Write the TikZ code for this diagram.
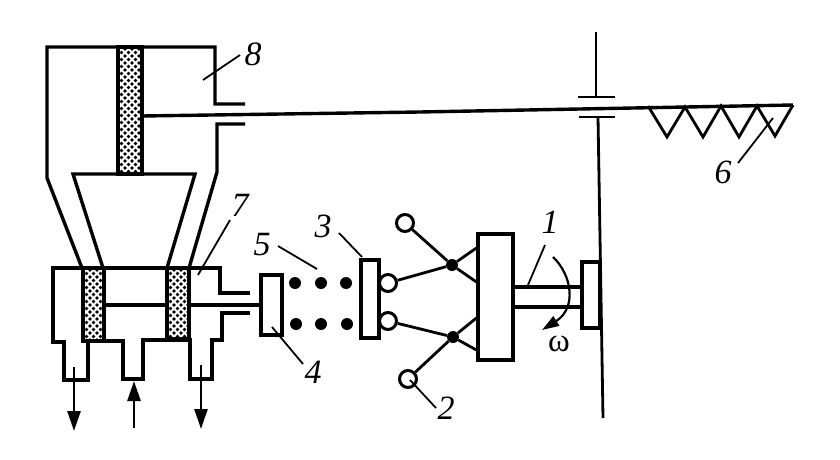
\documentclass[tikz,border=0pt]{standalone}
\usepackage{fontspec}
\setmainfont{Liberation Serif}
\usetikzlibrary{arrows.meta}
\tikzset{
  x=1pt,y=-1pt,
  heavy/.style={line width=3.4pt,line join=miter},
  medium/.style={line width=2.8pt},
  leader/.style={line width=1.8pt},
  flow/.style={line width=2.6pt,-{Triangle[length=20pt,width=13pt]}},
  boxn/.style={draw,line width=3.2pt,fill=white,inner sep=0pt,minimum width=#1},
  ball/.style={draw,line width=3pt,circle,fill=white,inner sep=0pt,minimum size=17pt},
  joint/.style={circle,fill=black,inner sep=0pt,minimum size=12pt},
  roller/.style={circle,fill=black,inner sep=0pt,minimum size=12pt},
  lab/.style={font=\fontsize{34}{34}\selectfont\itshape,inner sep=0pt},
  omegalab/.style={font=\fontsize{33}{33}\selectfont,inner sep=0pt}
}
\newcommand{\speckled}[4]{%
  \begin{scope}
    \clip (#1,#2) rectangle (#3,#4);
    \foreach \j in {0,...,38}{
      \foreach \i in {0,...,6}{
        \pgfmathsetmacro{\px}{#1+\i*7+mod(\j,2)*3.5}
        \pgfmathsetmacro{\py}{#2+2+\j*3.5}
        \fill (\px,\py) circle (1.8pt);
      }
    }
  \end{scope}
  \draw[line width=4pt] (#1,#2) rectangle (#3,#4);
}
\begin{document}
\begin{tikzpicture}
\useasboundingbox (0,0) rectangle (840,460);
\fill[white] (0,0) rectangle (840,460);

% upper cylinder
\draw[heavy] (245,104) -- (215,104) -- (215,47) -- (47,47) -- (47,178) -- (82,268);
\draw[heavy] (245,124) -- (217,124) -- (217,172) -- (189,268);
\speckled{118}{47}{142}{174}
\draw[heavy] (103,268) -- (73,174) -- (195,174) -- (167,268);

% long rod with saw teeth
\draw[heavy] (142,116) -- (420,112) -- (793,105);
\draw[medium,line join=miter] (648,106) -- (667,137) -- (685,107) -- (703,137) -- (721,106)
  -- (739,137) -- (757,106) -- (775,136) -- (793,105);

% wall
\draw[medium] (596,32) -- (596,97);
\draw[medium] (578,97) -- (615,97);
\draw[medium] (579,117) -- (615,117);
\draw[medium] (598,117) -- (603,418);

% lower cylinder
\draw[heavy] (250,293) -- (220,293) -- (220,268) -- (53,268) -- (53,342) -- (64,342) -- (64,380)
  -- (88,380) -- (88,341) -- (123,341) -- (123,379) -- (143,379) -- (143,340) -- (190,340)
  -- (190,379) -- (212,379) -- (212,340) -- (222,340) -- (222,313) -- (250,313);
\speckled{83}{268}{104}{341}
\speckled{167}{268}{189}{339}

% piston rod and disc 4
\node[boxn=21pt,minimum height=60pt] (d4) at (271.5,305) {};
\draw[heavy] (104,305) -- (167,305);
\draw[heavy] (189,305) -- (d4.west);

% rollers
\foreach \n/\x/\y in {a/295/283,b/321/283,c/346/283,d/296/324,e/321/324,f/347/324}
  \node[roller] (r\n) at (\x,\y) {};

% disc 3, balls, block
\node[boxn=18pt,minimum height=78pt] (d3) at (370,299) {};
\node[boxn=35pt,minimum height=126pt] (blk) at (495.5,297) {};
\node[joint] (j1) at (452,265) {};
\node[joint] (j2) at (453,337) {};
\node[ball] (b1) at (405,223) {};
\node[ball] (b2) at (388,283) {};
\node[ball] (b3) at (388,321) {};
\node[ball] (b4) at (408,379) {};
\draw[medium] (b1) -- (j1);
\draw[medium] (b2) -- (j1);
\draw[medium] (b3) -- (j2);
\draw[medium] (b4) -- (j2);
\draw[medium] (j1) -- (blk.west |- 0,248);
\draw[medium] (j1) -- (blk.west |- 0,282);
\draw[medium] (j2) -- (blk.west |- 0,318);
\draw[medium] (j2) -- (blk.west |- 0,350);

% shaft and right disc
\node[boxn=18pt,minimum height=66pt] (d1) at (591,295) {};
\draw[heavy] (blk.east |- 0,287) -- (d1.west |- 0,287);
\draw[heavy] (blk.east |- 0,307) -- (d1.west |- 0,307);

% flow arrows
\coordinate (fa1) at (74,367); \coordinate (fb1) at (74,431);
\coordinate (fa2) at (134,428); \coordinate (fb2) at (134,381);
\coordinate (fa3) at (201,365); \coordinate (fb3) at (201,429);
\draw[flow] (fa1) -- (fb1);
\draw[flow] (fa2) -- (fb2);
\draw[flow] (fa3) -- (fb3);

% rotation arrow
\coordinate (w1) at (553,257); \coordinate (w2) at (542,330);
\draw[line width=2.2pt,-{Triangle[length=17pt,width=11pt]}] (w1) .. controls (572,275) and (577,308) .. (w2);
\node[omegalab] (om) at (559,344) {ω};

% labels and leaders
\node[lab] (l8) at (253,54) {8};
\node[lab] (l7) at (240,205) {7};
\node[lab] (l5) at (262,245) {5};
\node[lab] (l3) at (323,226) {3};
\node[lab] (l4) at (313,372) {4};
\node[lab] (l2) at (446,408) {2};
\node[lab] (l1) at (550,222) {1};
\node[lab] (l6) at (723,172) {6};
\coordinate (e8) at (240,55); \coordinate (t8) at (203,80);
\coordinate (e7) at (230,220); \coordinate (t7) at (198,275);
\coordinate (e5) at (278,246); \coordinate (t5) at (317,269);
\coordinate (e3) at (339,233); \coordinate (t3) at (362,257);
\coordinate (e4) at (303,364); \coordinate (t4) at (272,327);
\coordinate (e2) at (436,408); \coordinate (t2) at (410,380);
\coordinate (e1) at (545,245); \coordinate (t1) at (528,285);
\coordinate (e6) at (738,163); \coordinate (t6) at (773,118);
\foreach \n in {8,7,5,3,4,2,1,6} \draw[leader] (e\n) -- (t\n);
\end{tikzpicture}
\end{document}
